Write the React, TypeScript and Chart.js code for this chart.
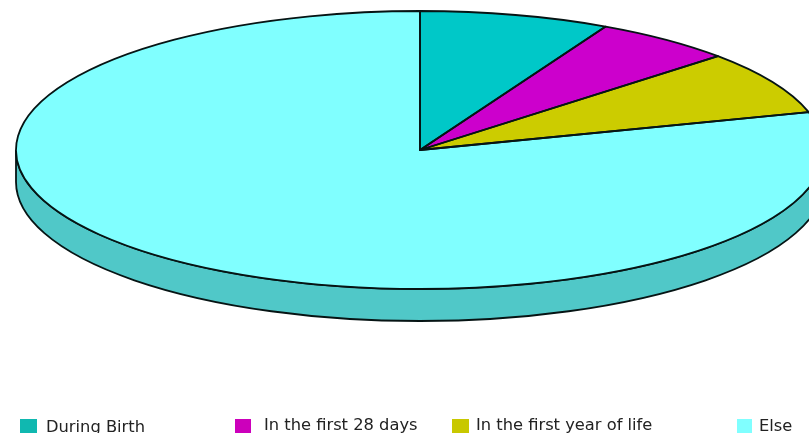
import React, { useEffect, useRef } from "react";
import { Chart, registerables } from "chart.js";

Chart.register(...registerables);

const categories = ["During Birth", "In the first 28 days", "In the first year of life", "Else"];
const shares = [7.6, 5.6, 7.4, 79.4];
const topColors = ["#00C8C8", "#CC00CC", "#CCCC00", "#80FFFF"];
const wallColors = ["#00A0A0", "#A000A0", "#A0A000", "#50C8C8"];
const legendColors = ["#10B8B0", "#CC00BB", "#C8C800", "#80FFFF"];

const CX = 420, CY = 150, RX = 404, RY = 139, DEPTH = 32;
const legendSwatchX = [20, 235, 452, 737];
const legendSwatchW = [17, 16, 17, 15];
const legendTextX = [46, 264, 476, 759];
const legendTextY = [428, 426, 426, 427];
const OUTLINE = "#061414";

const pie3d = {
  id: "pie3d",
  beforeDatasetsDraw(chart: any) {
    const ctx = chart.ctx;
    const arcs = chart.getDatasetMeta(0).data;
    arcs.forEach((arc: any, i: number) => {
      const s = Math.max(arc.startAngle, 0);
      const e = Math.min(arc.endAngle, Math.PI);
      if (e <= s) return;
      ctx.save();
      ctx.beginPath();
      ctx.ellipse(CX, CY, RX, RY, 0, s, e);
      ctx.ellipse(CX, CY + DEPTH, RX, RY, 0, e, s, true);
      ctx.closePath();
      ctx.fillStyle = wallColors[i];
      ctx.fill();
      ctx.strokeStyle = OUTLINE;
      ctx.lineWidth = 1.8;
      ctx.stroke();
      ctx.restore();
    });
    const a = arcs[0];
    ctx.save();
    ctx.translate(CX, CY);
    ctx.scale(RX / a.outerRadius, RY / a.outerRadius);
    ctx.translate(-a.x, -a.y);
  },
  afterDatasetsDraw(chart: any) {
    const ctx = chart.ctx;
    ctx.restore();
    chart.getDatasetMeta(0).data.forEach((arc: any) => {
      ctx.save();
      ctx.beginPath();
      ctx.moveTo(CX, CY);
      ctx.ellipse(CX, CY, RX, RY, 0, arc.startAngle, arc.endAngle);
      ctx.closePath();
      ctx.strokeStyle = OUTLINE;
      ctx.lineWidth = 1.8;
      ctx.lineJoin = "round";
      ctx.stroke();
      ctx.restore();
    });
  },
  afterDraw(chart: any) {
    const ctx = chart.ctx;
    ctx.save();
    ctx.font = '16.3px "DejaVu Sans"';
    ctx.textBaseline = "middle";
    categories.forEach((label, i) => {
      ctx.fillStyle = legendColors[i];
      ctx.fillRect(legendSwatchX[i], 419, legendSwatchW[i], 14);
      ctx.fillStyle = "#222222";
      ctx.fillText(label, legendTextX[i], legendTextY[i]);
    });
    ctx.restore();
  },
};

export default function App() {
  const ref = useRef<HTMLCanvasElement>(null);
  useEffect(() => {
    const chart = new Chart(ref.current!, {
      type: "pie",
      data: {
        labels: categories,
        datasets: [{ data: shares, backgroundColor: topColors, borderWidth: 0, clip: false } as any],
      },
      options: {
        responsive: false,
        animation: false,
        plugins: { legend: { display: false }, tooltip: { enabled: false } },
      },
      plugins: [pie3d],
    });
    return () => chart.destroy();
  }, []);
  return (
    <canvas
      ref={ref}
      width={809}
      height={433}
      style={{ position: "fixed", left: 0, top: 0, display: "block", background: "#fff" }}
    />
  );
}
